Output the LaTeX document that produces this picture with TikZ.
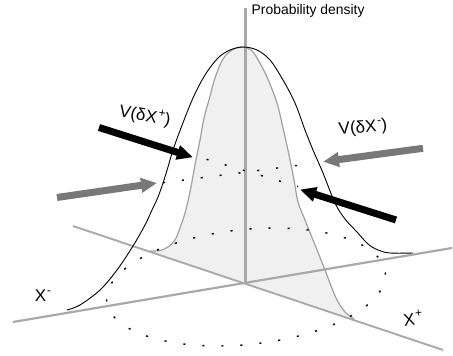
\documentclass[tikz,border=0pt]{standalone}
\usepackage{fontspec}
\setmainfont{Liberation Sans}
\usetikzlibrary{arrows.meta}
\definecolor{axisgray}{HTML}{A9A9A9}
\definecolor{curvegray}{HTML}{A0A0A0}
\definecolor{slicefill}{HTML}{F0F0F0}
\definecolor{arrowgray}{HTML}{787878}
\newcommand{\supmark}[1]{\kern1pt\raisebox{0.42em}{\fontsize{12}{12}\selectfont #1}}
\begin{document}
\begin{tikzpicture}[x=1pt,y=-1pt,
  axisline/.style={draw=axisgray,line width=2.2pt},
  dotline/.style={line width=1.4pt,dash pattern=on 2.1pt off 16.95pt},
  bigarrow/.style={line width=7pt,-{Triangle[length=16pt,width=14pt]}},
  lbl/.style={inner sep=0pt,font=\fontsize{17}{17}\selectfont}]
\useasboundingbox (0,0) rectangle (453,356);

% shaded slice
\fill[slicefill] plot[smooth,tension=0.55] coordinates {(150,251) (160,250.5) (168,247) (175,240) (180,228) (185,213) (190,192) (195,165) (200,140) (204,118) (209,100) (215,78) (223,59) (232,50) (242,47) (251,50) (257,58) (267,77) (277,103) (283,128) (289,155) (294,180) (298,202) (305,220) (315,245) (325,270) (336,298) (345,312) (354,319)} -- cycle;
\draw[curvegray,line width=1.2pt] plot[smooth,tension=0.55] coordinates {(150,251) (160,250.5) (168,247) (175,240) (180,228) (185,213) (190,192) (195,165) (200,140) (204,118) (209,100) (215,78) (223,59) (232,50) (242,47) (251,50) (257,58) (267,77) (277,103) (283,128) (289,155) (294,180) (298,202) (305,220) (315,245) (325,270) (336,298) (345,312) (354,319)};

% axes
\coordinate (O) at (245.5,282);
\coordinate (ptop) at (245.5,8);
\coordinate (xmL) at (13,322);
\coordinate (xmR) at (452,248);
\coordinate (xpL) at (73,226);
\coordinate (xpR) at (443,350);
\draw[axisline,line width=1.9pt] (xpL) -- (xpR);
\draw[axisline] (xmL) -- (xmR);
\draw[axisline,line width=2.6pt] (O) -- (ptop);

% dotted ellipse and direction lines
\draw[dotline,shift={(246,287)},rotate=5.9] (0,0) ellipse [x radius=140,y radius=57.5];
\coordinate (bd1) at (206.5,159.3);
\coordinate (bd2) at (298,186.5);
\coordinate (gd1) at (163,182.7);
\coordinate (gd2) at (314,163.3);
\draw[dotline,dash pattern=on 2.1pt off 16.8pt] (bd1) -- (bd2);
\draw[dotline,dash pattern=on 2.1pt off 16.9pt] (gd1) -- (gd2);

% outer bell curve
\draw[black,line width=0.9pt] plot[smooth,tension=0.55] coordinates {(67,310) (80,305) (100,290) (117,270) (133,246) (145,225) (152,210) (158,197) (163,183) (168,167) (173,150) (181,128) (193,98) (205,75) (218,58) (230,50) (243,47) (257,50) (270,60) (283,80) (295,103) (305,130) (313,150) (323,173) (335,203) (345,219) (357,232) (368,244) (378,250) (390,253) (413,253)};

% arrows
\coordinate (ba1) at (99,127.5);
\coordinate (ba2) at (193,157.3);
\coordinate (bb1) at (396,220);
\coordinate (bb2) at (300,189.5);
\coordinate (ga1) at (57,197.5);
\coordinate (ga2) at (157,183);
\coordinate (gb1) at (423,148.3);
\coordinate (gb2) at (323,161.7);
\draw[bigarrow,black] (ba1) -- (ba2);
\draw[bigarrow,black] (bb1) -- (bb2);
\draw[bigarrow,arrowgray] (ga1) -- (ga2);
\draw[bigarrow,arrowgray] (gb1) -- (gb2);

% labels
\node[anchor=west,inner sep=0pt,font=\fontsize{13.9}{14}\selectfont] (pd) at (251.5,11) {Probability density};
\node[lbl,rotate=-10] (vp) at (145,116) {V(δX\supmark{+})};
\node[lbl,rotate=5] (vm) at (363,128) {V(δX\supmark{-})};
\node[lbl] (xm) at (43,296) {X\supmark{-}};
\node[lbl,rotate=8] (xp) at (413,318) {X\supmark{+}};
\end{tikzpicture}
\end{document}
